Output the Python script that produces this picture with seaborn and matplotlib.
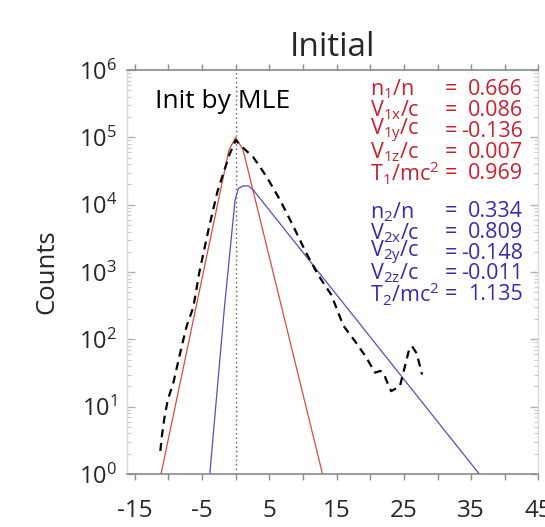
import matplotlib
matplotlib.use("Agg")
import matplotlib.pyplot as plt
import seaborn as sns
import numpy as np

# Observed counts (dashed) and the two fitted components (red, blue)
obs_x = [-11.2, -11.0, -10.6, -10.1, -9.25, -8.0, -7.27, -6.3, -5.4, -4.06, -2.73, -0.95, 0.0,
         0.6, 2.6, 4.6, 6.6, 8.6, 10.5, 12.3, 14.2, 16.0, 17.9, 19.4, 20.7, 21.5, 22.1,
         22.3, 23.1, 24.4, 25.1, 25.8, 26.2, 26.9, 27.7]
obs_counts = [2.2, 3.5, 6.8, 12.6, 23, 81, 160, 300, 1000, 4200, 15500, 55000, 91000,
              78000, 51000, 26000, 11700, 4700, 1900, 890, 460, 160, 89, 54, 32, 34, 30,
              26, 17, 20, 38, 72, 79, 62, 30]

comp1_x = [-11.1, -1.0, 0.0, 1.1, 12.9]
comp1_counts = [1, 65000, 100000, 65000, 1]

comp2_x = [-3.85, -1.7, -0.1, 0.4, 1.1, 1.9, 2.6, 36.2]
comp2_counts = [1, 280, 11700, 17400, 19000, 19000, 16600, 1]

comp1_labels = ["n$_1$/n", "V$_{1x}$/c", "V$_{1y}$/c", "V$_{1z}$/c", "T$_1$/mc$^2$"]
comp1_values = ["0.666", "0.086", "-0.136", "0.007", "0.969"]
comp2_labels = ["n$_2$/n", "V$_{2x}$/c", "V$_{2y}$/c", "V$_{2z}$/c", "T$_2$/mc$^2$"]
comp2_values = ["0.334", "0.809", "-0.148", "-0.011", "1.135"]

x_ticks = [-15, -5, 5, 15, 25, 35, 45]

RED_LINE = "#e0483e"
BLUE_LINE = "#5b4cc0"
RED_TEXT = "#cc1f2b"
BLUE_TEXT = "#3a2ab0"

sns.set_style("white")
plt.rcParams["font.family"] = ["Open Sans", "DejaVu Sans"]
plt.rcParams["mathtext.fontset"] = "custom"
plt.rcParams["mathtext.rm"] = "Open Sans"
plt.rcParams["mathtext.it"] = "Open Sans:italic"
plt.rcParams["mathtext.bf"] = "Open Sans:bold"
plt.rcParams["mathtext.default"] = "regular"

fig = plt.figure(figsize=(5.45, 5.27), dpi=100)
ax = fig.add_axes([0.2325, 0.1006, 0.988 - 0.2325, 0.867 - 0.1006])

ax.axvline(0, color="#555555", lw=1.0, ls=(0, (1, 2.2)), zorder=1)

sns.lineplot(x=comp1_x, y=comp1_counts, ax=ax, color=RED_LINE, lw=0.9, sort=False, zorder=2)
sns.lineplot(x=comp2_x, y=comp2_counts, ax=ax, color=BLUE_LINE, lw=0.9, sort=False, zorder=2)
sns.lineplot(x=obs_x, y=obs_counts, ax=ax, color="black", lw=1.6, sort=False,
             ls=(0, (3.6, 2.6)), zorder=3)

ax.set_yscale("log")
ax.set_ylim(1, 1e6)
ax.set_xlim(-16.2, 45)
ax.set_xticks(x_ticks)
ax.set_xticks(np.arange(-10, 45, 10), minor=True)
ax.set_xticklabels([str(t) for t in x_ticks])

for side in ["top", "bottom"]:
    ax.spines[side].set_color("#8a8a8a")
    ax.spines[side].set_linewidth(1.2)
for side in ["left", "right"]:
    ax.spines[side].set_color("#d8d8d8")
    ax.spines[side].set_linewidth(1.0)

ax.tick_params(axis="x", which="both", direction="out", top=True, bottom=True,
               length=4, width=1, color="#8a8a8a", labelsize=17.5, pad=14)
ax.tick_params(axis="y", which="major", direction="in", left=True, right=True,
               length=6, width=1, color="#b0b0b0", labelsize=17, pad=7)
ax.tick_params(axis="y", which="minor", direction="in", left=True, right=True,
               length=3, width=0.8, color="#c8c8c8")

ax.set_ylabel("Counts", fontsize=18.5, labelpad=14)
ax.set_xlabel("")
ax.set_title("Initial", fontsize=24, pad=10)

ax.text(0.069, 0.921, "Init by MLE", transform=ax.transAxes, fontsize=19,
        ha="left", va="center", color="black")

red_rows = [89.3, 110.3, 131.3, 152.3, 173.3]
blue_rows = [211.7, 232.7, 253.0, 273.5, 294.0]
x_lab, x_eq, x_val = 0.591, 0.787, 0.963


def block(labels, values, rows, color):
    for lab, val, py in zip(labels, values, rows):
        yf = 1 - (py - 70) / 404.0
        ax.text(x_lab, yf, lab, transform=ax.transAxes, fontsize=15.5,
                ha="left", va="center", color=color)
        ax.text(x_eq, yf, "=", transform=ax.transAxes, fontsize=15.5,
                ha="center", va="center", color=color)
        ax.text(x_val, yf, val, transform=ax.transAxes, fontsize=15.5,
                ha="right", va="center", color=color)


block(comp1_labels, comp1_values, red_rows, RED_TEXT)
block(comp2_labels, comp2_values, blue_rows, BLUE_TEXT)

fig.savefig("out.png", dpi=100)
